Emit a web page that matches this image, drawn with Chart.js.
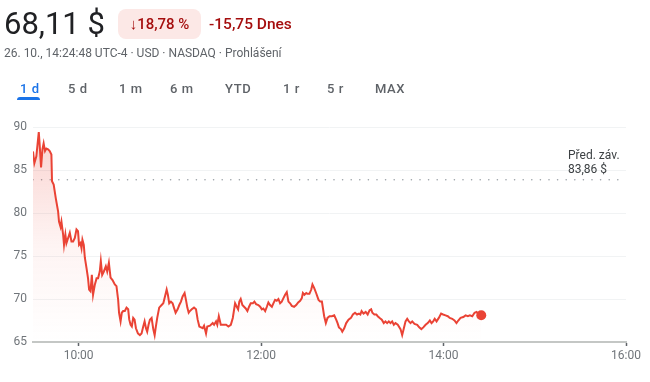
<!DOCTYPE html>
<html>
<head>
<meta charset="utf-8">
<script src="https://cdn.jsdelivr.net/npm/chart.js@4.4.0/dist/chart.umd.min.js"></script>
<style>
  html, body { margin:0; padding:0; background:#fff; }
  body { width:650px; height:382px; position:relative; overflow:hidden; font-family: Roboto, "Noto Sans", Arial, sans-serif; }
  #wrap { position:absolute; left:0; top:0; width:650px; height:382px; }
  .abs { position:absolute; white-space:nowrap; }
  #price { left:4px; top:4px; font-size:31px; color:#202124; line-height:40px; }
  #badge { left:118px; top:9px; width:83px; height:30px; background:#fce8e6; border-radius:8px; color:#a50e0e; font-size:15px; line-height:30px; text-align:center; font-weight:500; }
  #chg { left:209px; top:9px; font-size:15.5px; line-height:30px; color:#a50e0e; font-weight:500; }
  #sub { left:4px; top:45px; font-size:12px; line-height:16px; color:#5f6368; }
  .tab { top:80px; font-size:13px; line-height:18px; color:#5f6368; letter-spacing:0.6px; font-weight:500; }
  #tab0 { color:#1a73e8; }
  #uline { left:17px; top:97px; width:23px; height:3px; background:#1a73e8; border-radius:3px 3px 0 0; }
</style>
</head>
<body>
<div id="wrap"><canvas id="c" width="650" height="382"></canvas></div>
<div class="abs" id="price">68,11 $</div>
<div class="abs" id="badge">↓18,78 %</div>
<div class="abs" id="chg">-15,75 Dnes</div>
<div class="abs" id="sub">26. 10., 14:24:48 UTC-4 · USD · NASDAQ · Prohlášení</div>
<div class="abs tab" id="tab0" style="left:20px">1 d</div>
<div class="abs tab" style="left:68px">5 d</div>
<div class="abs tab" style="left:119px">1 m</div>
<div class="abs tab" style="left:170px">6 m</div>
<div class="abs tab" style="left:225px">YTD</div>
<div class="abs tab" style="left:283px">1 r</div>
<div class="abs tab" style="left:327px">5 r</div>
<div class="abs tab" style="left:375px">MAX</div>
<div class="abs" id="uline"></div>
<script>
// ---- data ----
const openMinute = 570;      // 9:30
const closeMinute = 960;     // 16:00
const prevClose = 83.86;
const prevCloseLabel = ["Před. záv.", "83,86 $"];
const xTickMinutes = [600, 720, 840, 960];
const yTicks = [65, 70, 75, 80, 85, 90];

// minutes after the 9:30 open
const minutes = [
  0, 0.9, 2.2, 3.8, 4.4, 5.3, 6.2, 7.0, 7.9, 8.8, 9.9, 11.0, 12.1, 12.5, 13.6, 15.0, 16.5, 17.1, 18.1, 18.7,
  19.8, 20.4, 21.3, 22.0, 23.1, 24.2, 25.3, 26.4, 27.5, 28.6, 29.6, 30.3, 31.2, 31.9, 32.5, 33.4, 34.1, 35.2, 36.2, 36.9,
  37.8, 38.7, 39.5, 40.7, 41.8, 42.8, 43.9, 44.6, 45.5, 46.6, 47.9, 48.8, 49.9, 51.0, 52.3, 53.8, 54.9, 56.0, 56.6, 57.6,
  58.4, 59.3, 60.4, 61.5, 62.6, 63.3, 64.2, 65.0, 65.9, 66.8, 67.7, 69.0, 70.3, 71.4, 72.5, 73.4, 74.3, 75.1, 76.0, 76.9,
  78.0, 79.1, 80.0, 80.8, 81.7, 83.0, 84.6, 85.7, 86.8, 87.9, 88.7, 89.6, 90.7, 91.8, 92.7, 93.8, 95.1, 96.2, 97.3, 98.4,
  99.7, 100.6, 101.5, 102.4, 103.2, 104.4, 105.9, 107.2, 108.3, 109.4, 111.6, 112.5, 113.8, 114.6, 116.4, 118.2, 119.1, 120.4, 121.2, 122.2,
  123.5, 125.2, 127.0, 128.5, 130.1, 131.4, 132.9, 134.0, 134.9, 135.7, 136.6, 137.7, 138.8, 139.9, 141.0, 142.1, 143.2, 144.6, 145.6, 146.7,
  148.2, 149.4, 150.5, 151.5, 152.7, 153.8, 154.8, 155.9, 157.1, 158.1, 159.2, 160.3, 161.4, 162.5, 163.6, 164.7, 165.8, 166.9, 168.0, 169.1,
  170.2, 171.7, 173.1, 174.4, 175.7, 176.8, 177.5, 178.5, 179.7, 180.5, 181.8, 183.0, 183.8, 184.9, 186.2, 187.8, 188.9, 190.0, 191.5, 192.6,
  193.7, 195.0, 196.6, 198.1, 199.4, 200.3, 201.2, 202.5, 203.4, 204.7, 206.0, 207.5, 209.1, 210.4, 211.8, 213.1, 214.4, 215.3, 216.1, 217.4,
  218.8, 220.1, 221.4, 222.4, 223.2, 224.5, 225.8, 226.7, 228.0, 229.4, 230.7, 231.8, 232.9, 234.0, 235.1, 236.2, 237.3, 238.4, 239.9, 241.7,
  242.8, 243.9, 245.0, 246.1, 247.2, 248.3, 249.4, 250.9, 252.7, 254.0, 255.4, 256.7, 258.2, 259.6, 261.0, 262.1, 263.2, 264.2, 265.4, 266.9,
  268.4, 269.7, 271.3, 272.8, 274.1, 275.7, 277.2, 278.5, 279.7, 281.2, 283.0, 284.5, 286.0, 287.3, 288.9, 290.4, 291.7, 292.9, 294.8
];
const prices = [
  87.16, 85.8, 86.6, 89.4, 87.9, 85.3, 87.4, 88.1, 87.2, 87.5, 87.4, 87.2, 86.8, 83.7, 83.3, 81.7, 80.2, 79.0, 78.4, 79.0,
  77.5, 76.3, 77.5, 76.5, 77.1, 77.7, 76.7, 76.7, 77.1, 78.1, 77.9, 76.3, 76.5, 75.9, 76.9, 76.3, 74.8, 73.6, 72.4, 71.1,
  70.9, 72.8, 70.5, 71.7, 72.4, 72.4, 73.2, 74.4, 72.8, 73.2, 73.8, 73.2, 74.2, 72.5, 72.2, 71.7, 71.5, 69.9, 68.4, 67.4,
  68.4, 68.6, 68.6, 69.0, 68.8, 67.6, 67.0, 66.8, 67.8, 67.6, 66.6, 66.0, 65.8, 66.0, 66.8, 67.4, 66.6, 66.2, 67.0, 67.6,
  67.8, 66.5, 65.8, 66.8, 67.8, 69.0, 69.3, 69.5, 70.3, 71.1, 70.5, 69.5, 69.7, 69.5, 69.0, 68.4, 68.8, 69.3, 69.7, 70.3,
  70.7, 69.9, 69.0, 68.4, 68.6, 68.8, 69.0, 68.8, 67.6, 66.8, 66.6, 66.9, 66.0, 66.8, 66.9, 67.2, 67.0, 67.4, 67.0, 68.0,
  67.0, 67.0, 67.0, 66.8, 67.0, 67.8, 69.5, 69.1, 68.8, 69.7, 70.0, 69.3, 69.1, 68.9, 68.6, 69.1, 69.5, 69.5, 69.7, 69.4,
  69.3, 69.1, 68.8, 68.9, 68.6, 69.1, 69.6, 69.3, 69.1, 69.5, 69.9, 69.8, 70.0, 69.5, 69.7, 70.1, 70.5, 70.8, 69.7, 69.5,
  69.2, 69.1, 69.3, 69.6, 69.8, 70.1, 70.7, 70.5, 70.7, 70.6, 70.6, 71.1, 71.7, 71.3, 70.7, 69.9, 69.7, 69.7, 68.0, 67.2,
  67.8, 68.0, 68.0, 68.1, 67.6, 67.2, 66.7, 66.5, 66.2, 66.6, 67.2, 67.6, 67.8, 68.2, 68.4, 68.2, 68.3, 68.2, 68.6, 68.3,
  68.5, 68.2, 68.7, 68.8, 68.4, 68.2, 68.2, 68.0, 67.8, 67.6, 67.2, 67.4, 67.2, 67.4, 67.2, 67.4, 67.0, 67.2, 67.0, 66.5,
  65.8, 66.6, 67.4, 67.7, 67.4, 67.2, 67.4, 67.1, 67.0, 66.7, 66.5, 66.7, 67.0, 67.2, 67.5, 67.2, 67.4, 67.7, 67.4, 67.8,
  68.3, 68.2, 68.1, 68.0, 67.8, 67.7, 67.5, 67.2, 67.5, 67.8, 67.9, 68.1, 68.0, 68.1, 68.0, 68.4, 68.5, 68.3, 68.11
];

// ---- chart ----
const RED = '#ea4335';
const points = minutes.map((m, i) => ({ x: openMinute + m, y: prices[i] }));
const lastIdx = points.length - 1;

function fmtTime(v) {
  const h = Math.floor(v / 60), m = v % 60;
  return h + ':' + String(m).padStart(2, '0');
}

const prevClosePlugin = {
  id: 'prevClose',
  afterDatasetsDraw(chart) {
    const { ctx, chartArea, scales } = chart;
    const y = scales.y.getPixelForValue(prevClose);
    ctx.save();
    ctx.font = '12px Roboto, "Noto Sans", Arial, sans-serif';
    ctx.fillStyle = '#3c4043';
    ctx.textAlign = 'left';
    ctx.textBaseline = 'middle';
    ctx.fillText(prevCloseLabel[0], chartArea.right - 58, y - 24);
    ctx.fillText(prevCloseLabel[1], chartArea.right - 58, y - 10);
    ctx.restore();
  }
};

new Chart(document.getElementById('c'), {
  type: 'line',
  data: {
    datasets: [
      {
        data: points,
        borderColor: RED,
        borderWidth: 2,
        tension: 0,
        fill: 'start',
        backgroundColor: (ctx) => {
          const ca = ctx.chart.chartArea;
          if (!ca) return 'rgba(234,67,53,0.1)';
          const g = ctx.chart.ctx.createLinearGradient(0, ca.top, 0, ca.bottom);
          g.addColorStop(0, 'rgba(234,67,53,0.24)');
          g.addColorStop(0.55, 'rgba(234,67,53,0.06)');
          g.addColorStop(1, 'rgba(234,67,53,0.0)');
          return g;
        },
        pointRadius: (c) => c.dataIndex === lastIdx ? 5 : 0,
        pointBackgroundColor: RED,
        pointBorderWidth: 0,
        pointHoverRadius: 0,
        order: 1
      },
      {
        data: [{ x: openMinute, y: prevClose }, { x: closeMinute - 3, y: prevClose }],
        borderColor: '#9aa0a6',
        borderWidth: 1.6,
        borderDash: [0, 8.6],
        borderCapStyle: 'round',
        pointRadius: 0,
        fill: false,
        order: 2
      }
    ]
  },
  options: {
    responsive: false,
    animation: false,
    events: [],
    layout: { padding: { left: 0, top: 127, right: 24, bottom: 0 } },
    plugins: { legend: { display: false }, tooltip: { enabled: false } },
    scales: {
      x: {
        type: 'linear',
        min: openMinute,
        max: closeMinute,
        afterBuildTicks: (s) => { s.ticks = xTickMinutes.map(v => ({ value: v })); },
        afterFit: (s) => { s.height = 40; },
        ticks: {
          callback: (v) => fmtTime(v),
          color: '#70757a',
          font: { size: 12, family: 'Roboto, "Noto Sans", Arial, sans-serif' },
          padding: 3,
          maxRotation: 0
        },
        grid: { drawOnChartArea: false, drawTicks: true, tickLength: 4, tickColor: '#5f6368', tickWidth: 1.5 },
        border: { display: true, color: '#c4c7c5', width: 2 }
      },
      y: {
        min: 65,
        max: 90,
        afterBuildTicks: (s) => { s.ticks = yTicks.map(v => ({ value: v })); },
        afterFit: (s) => { s.width = 33; },
        ticks: {
          color: '#70757a',
          font: { size: 12, family: 'Roboto, "Noto Sans", Arial, sans-serif' },
          padding: 6
        },
        grid: { color: '#f1f3f4', lineWidth: 1, drawTicks: false },
        border: { display: false }
      }
    }
  },
  plugins: [prevClosePlugin]
});
</script>
</body>
</html>
